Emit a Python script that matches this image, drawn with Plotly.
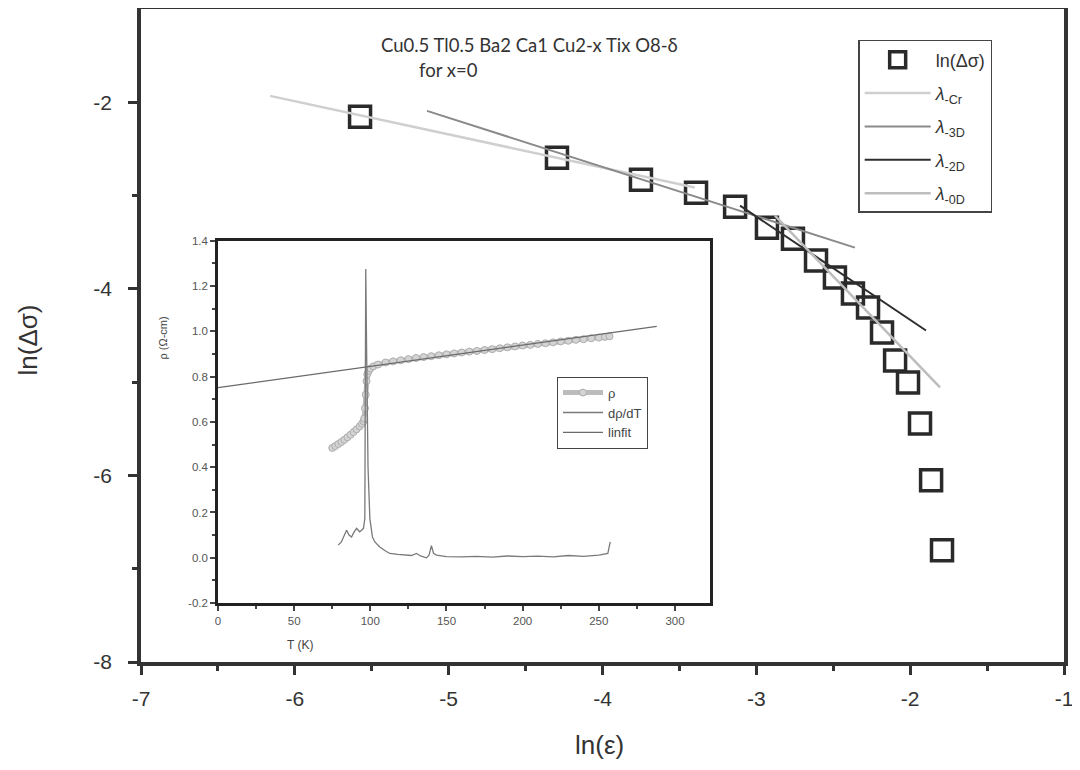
import plotly.graph_objects as go

# ---------------- main data ----------------
ln_eps = [-5.576, -4.296, -3.750, -3.392, -3.138, -2.931, -2.762, -2.612, -2.489,
          -2.372, -2.274, -2.183, -2.098, -2.014, -1.936, -1.864, -1.793]
ln_dsig = [-2.156, -2.595, -2.830, -2.969, -3.119, -3.344, -3.462, -3.697, -3.879,
           -4.050, -4.200, -4.468, -4.768, -5.003, -5.442, -6.052, -6.801]

cr_x = [-6.161, -3.40]
cr_y = [-1.931, -2.914]
d3_x = [-5.141, -2.359]
d3_y = [-2.092, -3.558]
d2_x = [-3.106, -1.897]
d2_y = [-3.108, -4.446]
d0_x = [-2.879, -1.806]
d0_y = [-3.216, -5.057]

# ---------------- inset data ----------------
rho_T = [75, 77, 79, 81, 83, 85, 87, 89, 91, 93, 94.5, 95.5, 96, 96.5, 97, 97.5, 98,
         99, 100, 102, 105, 110, 115, 120, 125, 130, 135, 140, 145, 150, 155, 160,
         165, 170, 175, 180, 185, 190, 195, 200, 205, 210, 215, 220, 225, 230, 235,
         240, 245, 250, 254, 257]
rho_v = [0.485, 0.493, 0.502, 0.511, 0.521, 0.532, 0.543, 0.555, 0.567, 0.58, 0.592,
         0.603, 0.615, 0.66, 0.72, 0.78, 0.81, 0.825, 0.835, 0.845, 0.853, 0.862,
         0.867, 0.872, 0.877, 0.882, 0.886, 0.89, 0.894, 0.898, 0.902, 0.906, 0.910,
         0.913, 0.917, 0.921, 0.925, 0.929, 0.933, 0.937, 0.940, 0.944, 0.947, 0.951,
         0.955, 0.958, 0.962, 0.965, 0.969, 0.972, 0.975, 0.978]

drho_T = [78.9, 81, 84.4, 86, 87.7, 89, 91, 93, 94.2, 95.5, 96.4, 97.0, 97.6, 98.5,
          99.7, 101.4, 103, 106.2, 110, 112.8, 118, 123.7, 127, 130.3, 133, 136.8,
          138.5, 140.1, 141.5, 143.4, 150, 160, 170, 180, 190, 200, 210, 220, 230,
          240, 250, 255.9, 257.5]
drho_v = [0.056, 0.07, 0.122, 0.10, 0.092, 0.11, 0.13, 0.115, 0.122, 0.13, 0.173,
          1.275, 0.9, 0.4, 0.173, 0.092, 0.07, 0.048, 0.03, 0.019, 0.015, 0.012, 0.01,
          0.019, 0.008, 0.0, 0.01, 0.054, 0.02, 0.012, 0.005, 0.004, 0.006, 0.003,
          0.008, 0.005, 0.007, 0.004, 0.01, 0.006, 0.012, 0.019, 0.07]

fit_T = [0, 288]
fit_v = [0.751, 1.021]

x_ticks = [-7, -6, -5, -4, -3, -2, -1]
x_labels = ["-7", "-6", "-5", "-4", "-3", "-2", "-1"]
y_ticks = [-8, -6, -4, -2]
y_labels = ["-8", "-6", "-4", "-2"]
ix_ticks = [0, 50, 100, 150, 200, 250, 300]
iy_ticks = [-0.2, 0.0, 0.2, 0.4, 0.6, 0.8, 1.0, 1.2, 1.4]
iy_labels = ["-0.2", "0.0", "0.2", "0.4", "0.6", "0.8", "1.0", "1.2", "1.4"]

INK = "#333333"
FONT = "Liberation Sans, Arial, sans-serif"

fig = go.Figure()

# main traces
fig.add_trace(go.Scatter(x=ln_eps, y=ln_dsig, mode="markers", name="ln(Δσ)",
                         marker=dict(symbol="square-open", size=21, color="#2a2a2a",
                                     line=dict(width=3.5, color="#2a2a2a")),
                         legend="legend", legendgroup="a"))
fig.add_trace(go.Scatter(x=cr_x, y=cr_y, mode="lines", name="<i>λ</i><sub>-Cr</sub>",
                         line=dict(color="#cfcfcf", width=2.5),
                         legend="legend", legendgroup="b"))
fig.add_trace(go.Scatter(x=d3_x, y=d3_y, mode="lines", name="<i>λ</i><sub>-3D</sub>",
                         line=dict(color="#8a8a8a", width=2),
                         legend="legend", legendgroup="c"))
fig.add_trace(go.Scatter(x=d2_x, y=d2_y, mode="lines", name="<i>λ</i><sub>-2D</sub>",
                         line=dict(color="#2e2e2e", width=2),
                         legend="legend", legendgroup="d"))
fig.add_trace(go.Scatter(x=d0_x, y=d0_y, mode="lines", name="<i>λ</i><sub>-0D</sub>",
                         line=dict(color="#bdbdbd", width=2.5),
                         legend="legend", legendgroup="e"))

# inset traces
fig.add_trace(go.Scatter(x=rho_T, y=rho_v, mode="lines+markers", name="ρ",
                         line=dict(color="#bcbcbc", width=5),
                         marker=dict(symbol="circle", size=7, color="#d4d4d4",
                                     line=dict(color="#adadad", width=1)),
                         xaxis="x2", yaxis="y2", legend="legend2", legendgroup="f"))
fig.add_trace(go.Scatter(x=drho_T, y=drho_v, mode="lines", name="dρ/dT",
                         line=dict(color="#7a7a7a", width=1.3),
                         xaxis="x2", yaxis="y2", legend="legend2", legendgroup="g"))
fig.add_trace(go.Scatter(x=fit_T, y=fit_v, mode="lines", name="linfit",
                         line=dict(color="#6a6a6a", width=1.3),
                         xaxis="x2", yaxis="y2", legend="legend2", legendgroup="h"))

fig.update_layout(
    width=1080, height=770,
    margin=dict(l=133, r=24, t=1, b=116, autoexpand=False),
    paper_bgcolor="white", plot_bgcolor="white",
    font=dict(family=FONT, color=INK),
    xaxis=dict(range=[-7, -1], tickvals=x_ticks, ticktext=x_labels, ticks="outside",
               ticklen=9, tickwidth=3, automargin=False,
               tickcolor=INK, showline=True, linewidth=3.5, linecolor=INK, mirror=True,
               showgrid=False, zeroline=False, tickfont=dict(size=21, color=INK),
               ticklabelstandoff=6,
               minor=dict(tickvals=[-6.5, -5.5, -4.5, -3.5, -2.5, -1.5], ticks="outside",
                          ticklen=5, tickwidth=2.5, tickcolor=INK)),
    yaxis=dict(range=[-8, -1], tickvals=y_ticks, ticktext=y_labels, ticks="outside",
               ticklen=9, tickwidth=3, automargin=False,
               tickcolor=INK, showline=True, linewidth=3.5, linecolor=INK, mirror=True,
               showgrid=False, zeroline=False, tickfont=dict(size=21, color=INK),
               ticklabelstandoff=12,
               minor=dict(tickvals=[-7, -5, -3], ticks="outside", ticklen=5,
                          tickwidth=2.5, tickcolor=INK)),
    xaxis2=dict(domain=[0.0834, 0.6165], anchor="y2", range=[0, 323], tickvals=ix_ticks,
                ticks="outside", ticklen=5, tickwidth=1.5, tickcolor="#444",
                showline=True, linewidth=2.5, linecolor="#222", mirror=True,
                showgrid=False, zeroline=False, tickfont=dict(size=11.5, color="#555"),
                automargin=False,
                minor=dict(dtick=25, tick0=0, ticks="outside", ticklen=3, tickcolor="#444")),
    yaxis2=dict(domain=[0.0902, 0.6453], anchor="x2", range=[-0.2, 1.4],
                tickvals=iy_ticks, ticktext=iy_labels, automargin=False,
                ticks="outside", ticklen=5, tickwidth=1.5, tickcolor="#444",
                showline=True, linewidth=2.5, linecolor="#222", mirror=True,
                showgrid=False, zeroline=False, tickfont=dict(size=11.5, color="#555"),
                minor=dict(dtick=0.1, tick0=0, ticks="outside", ticklen=3, tickcolor="#444")),
    legend=dict(x=0.777, y=0.9526, xanchor="left", yanchor="top", bgcolor="white",
                bordercolor="#444", borderwidth=1.5, font=dict(size=18, color=INK),
                tracegroupgap=7, itemwidth=66),
    legend2=dict(x=0.4507, y=0.437, xanchor="left", yanchor="top", bgcolor="white",
                 bordercolor="#444", borderwidth=1, font=dict(size=13, color="#444"),
                 tracegroupgap=0, itemwidth=40),
    annotations=[
        dict(text="Cu0.5 Tl0.5 Ba2 Ca1 Cu2-x Tix O8-δ", xref="paper", yref="paper",
             x=0.258, y=0.945, xanchor="left", yanchor="middle", showarrow=False,
             font=dict(family="Lato, sans-serif", size=18.5, color=INK)),
        dict(text="for x=0", xref="paper", yref="paper",
             x=0.299, y=0.9067, xanchor="left", yanchor="middle", showarrow=False,
             font=dict(family="Lato, sans-serif", size=18.5, color=INK)),
        dict(text="ln(ε)", xref="paper", yref="paper", x=0.497, y=-0.127,
             xanchor="center", yanchor="middle", showarrow=False,
             font=dict(size=26, color=INK)),
        dict(text="ln(Δσ)", xref="paper", yref="paper", x=-0.1224, y=0.4924,
             xanchor="center", yanchor="middle", showarrow=False, textangle=-90,
             font=dict(size=26, color=INK)),
        dict(text="T (K)", xref="paper", yref="paper", x=0.172, y=0.026,
             xanchor="center", yanchor="middle", showarrow=False,
             font=dict(size=12, color="#444")),
        dict(text="ρ (Ω-cm)", xref="paper", yref="paper", x=0.0228, y=0.4954,
             xanchor="center", yanchor="middle", showarrow=False, textangle=-90,
             font=dict(size=11, color="#444")),
    ],
)

fig.write_html("out.html")
